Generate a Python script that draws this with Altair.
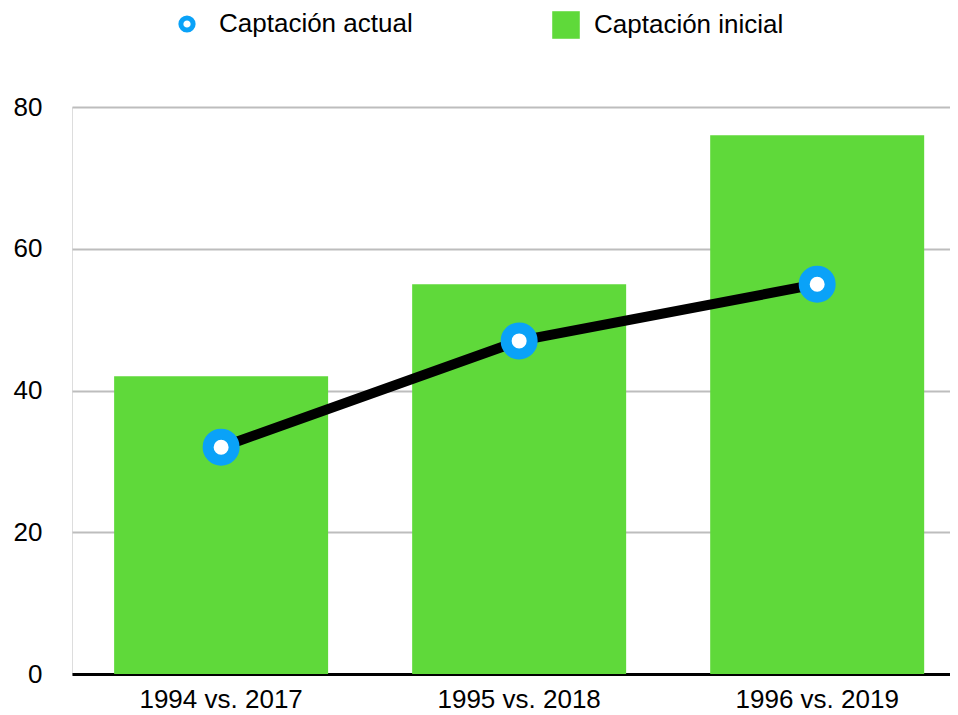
import altair as alt
import pandas as pd

categories = ["1994 vs. 2017", "1995 vs. 2018", "1996 vs. 2019"]
inicial = [42, 55, 76]
actual = [32, 47, 55]

df = pd.DataFrame({
    "cat": categories,
    "inicial": inicial,
    "actual": actual,
    "s_ini": ["Captación inicial"] * 3,
    "s_act": ["Captación actual"] * 3,
})

FONT = "Liberation Sans"
FS = 26

x = alt.X("cat:N", sort=categories, title=None,
          scale=alt.Scale(paddingInner=0.282, paddingOuter=0.114, align=0.62),
          axis=alt.Axis(labelAngle=0, ticks=False, domainColor="black", domainWidth=3,
                        labelFontSize=FS, labelPadding=12, labelColor="black", labelFont=FONT))
y_axis = alt.Axis(values=[0, 20, 40, 60, 80], grid=True, gridColor="#bdbdbd", gridWidth=2,
                  domain=False, ticks=False, labelFontSize=FS, labelPadding=30,
                  labelColor="black", labelFont=FONT)

bars = alt.Chart(df).mark_bar(opacity=1).encode(
    x=x,
    y=alt.Y("inicial:Q", title=None, scale=alt.Scale(domain=[0, 80]), axis=y_axis),
    fill=alt.Fill("s_ini:N", scale=alt.Scale(domain=["Captación inicial"], range=["#5fd93a"]),
                  legend=alt.Legend(title=None, orient="none", legendX=480, legendY=-96,
                                    symbolType="square", symbolSize=760, symbolStrokeWidth=0,
                                    symbolOpacity=1, labelFontSize=FS, labelFont=FONT,
                                    labelLimit=0, labelColor="black", labelOffset=14, padding=0)),
)

line = alt.Chart(df).mark_line(color="black", strokeWidth=10).encode(
    x=alt.X("cat:N", sort=categories),
    y=alt.Y("actual:Q"),
)

points = alt.Chart(df).mark_point(filled=False, fill="white", fillOpacity=1, strokeWidth=11,
                                   size=676, shape="circle", opacity=1).encode(
    x=alt.X("cat:N", sort=categories),
    y=alt.Y("actual:Q"),
    stroke=alt.Stroke("s_act:N", scale=alt.Scale(domain=["Captación actual"], range=["#0aa2f8"]),
                      legend=alt.Legend(title=None, orient="none", legendX=102, legendY=-96,
                                        symbolType="circle", symbolSize=150, symbolStrokeWidth=5,
                                        symbolFillColor="white", labelFontSize=FS, labelFont=FONT,
                                        labelLimit=0, labelColor="black", labelOffset=19, padding=0)),
)

chart = alt.layer(bars, line, points).properties(
    width=878, height=567,
    autosize=alt.AutoSizeParams(type="none"),
    padding={"left": 64, "top": 99, "right": 0, "bottom": 41},
).configure_view(stroke=None).configure(background="white")

chart.save("out.html", embed_options={"renderer": "svg", "actions": False})
